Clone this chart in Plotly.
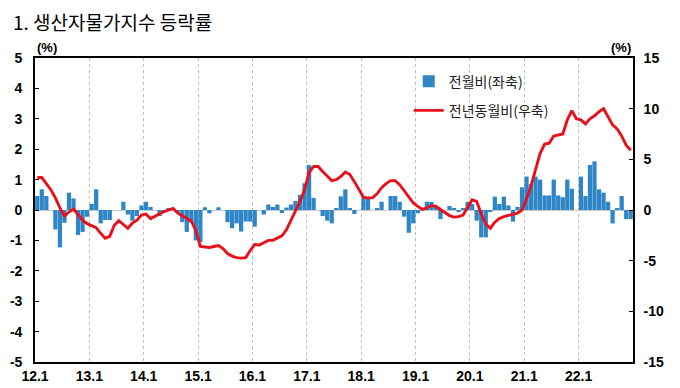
import plotly.graph_objects as go

years = list(range(2012, 2023))
months = [f"{y % 100}.{m}" for y in years for m in range(1, 13)]
x_tick_labels = [f"{y % 100}.1" for y in years]
left_ticks = [-5, -4, -3, -2, -1, 0, 1, 2, 3, 4, 5]
right_ticks = [-15, -10, -5, 0, 5, 10, 15]

# 전월비 (left axis, %)
mom = [
    0.46, 0.68, 0.46, 0.0, -0.64, -1.23, -0.42, 0.57, 0.38, -0.82, -0.72, -0.22,
    0.2, 0.68, -0.44, -0.33, -0.33, 0.0, 0.0, 0.27, -0.15, -0.35, -0.2, 0.15,
    0.27, 0.1, 0.0, -0.2, -0.05, 0.05, 0.0, -0.05, -0.4, -0.72, -0.42, -1.0,
    -1.05, 0.09, -0.11, 0.0, 0.09, 0.0, -0.4, -0.6, -0.44, -0.71, -0.38, -0.38,
    -0.55, 0.0, -0.15, 0.18, 0.1, 0.18, -0.1, 0.08, 0.18, 0.3, 0.5, 0.88,
    1.48, 0.4, 0.0, -0.2, -0.35, -0.44, 0.05, 0.45, 0.68, 0.05, -0.13, 0.0,
    0.38, 0.38, 0.0, 0.05, 0.27, 0.0, 0.46, 0.46, 0.27, -0.22, -0.75, -0.44,
    -0.11, 0.0, 0.27, 0.27, 0.1, -0.3, 0.0, 0.13, 0.05, -0.05, 0.05, 0.27,
    0.2, -0.35, -0.9, -0.9, -0.05, 0.44, 0.2, 0.44, 0.15, -0.38, 0.1, 0.75,
    1.1, 0.85, 1.1, 1.0, 0.48, 0.48, 1.0, 0.48, 0.42, 1.0, 0.7, 0.0,
    1.1, 0.46, 1.48, 1.6, 0.68, 0.57, 0.27, -0.44, 0.05, 0.46, -0.3, -0.3,
]

# 전년동월비 (right axis, %)
yoy = [
    3.2, 3.2, 2.6, 2.0, 1.2, 0.2, -0.6, -0.2, 0.1, -0.5, -1.0, -1.35,
    -1.55, -1.75, -2.3, -2.8, -2.6, -1.5, -1.05, -1.4, -1.8, -1.3, -1.0, -0.5,
    -0.4, -0.85, -0.6, -0.4, -0.15, 0.0, 0.15, -0.3, -0.6, -0.85, -1.1, -2.0,
    -3.6, -3.65, -3.7, -3.6, -3.5, -3.8, -4.3, -4.55, -4.7, -4.75, -4.7, -4.0,
    -3.4, -3.45, -3.2, -3.0, -3.0, -2.8, -2.55, -1.95, -1.0, 0.0, 0.85, 2.0,
    3.7, 4.3, 4.3, 3.8, 3.4, 2.9, 3.0, 3.3, 3.75, 3.5, 2.8, 2.0,
    1.25, 1.2, 1.2, 1.6, 2.2, 2.6, 2.9, 2.9, 2.5, 1.9, 1.3, 0.7,
    0.35, 0.05, 0.2, 0.45, 0.35, 0.05, -0.25, -0.55, -0.7, -0.65, -0.5, 0.3,
    1.0, 0.85, -0.4, -1.4, -1.8, -1.2, -0.85, -0.65, -0.55, -0.45, -0.3, 0.0,
    1.1, 2.4, 3.9, 5.6, 6.5, 6.6, 7.3, 7.4, 7.5, 8.9, 9.8, 9.0,
    8.9, 8.5, 9.0, 9.3, 9.7, 10.0, 9.2, 8.4, 8.0, 7.3, 6.4, 5.9,
]

idx = list(range(len(months)))
tick_pos = [months.index(lbl) - 0.5 for lbl in x_tick_labels]

BLUE = "#2F86C6"
RED = "#E8101A"
FONT = "Liberation Sans, Arial, sans-serif"
KFONT = "Noto Sans CJK KR, sans-serif"

# The page body has an 8px margin, so the figure is sized 8px smaller.
W, H = 672, 380
ML, MR, MT, MB = 27, 47, 50, 26
PW, PH = W - ML - MR, H - MT - MB

fig = go.Figure()
fig.add_trace(go.Bar(
    x=idx, y=mom, name="전월비(좌축)", marker_color=BLUE, marker_line_width=0,
    customdata=months, legendgroup="a",
))
fig.add_trace(go.Scatter(
    x=idx, y=yoy, name="전년동월비(우축)", mode="lines", yaxis="y2",
    line=dict(color=RED, width=2.9), customdata=months, legendgroup="b",
))

tickfont = dict(family=FONT, size=14, color="black", weight="bold")

fig.update_layout(
    width=W, height=H,
    margin=dict(l=ML, r=MR, t=MT, b=MB, pad=0),
    paper_bgcolor="white", plot_bgcolor="white",
    bargap=0.06,
    showlegend=True,
    legend=dict(
        x=0.625, y=0.975, xanchor="left", yanchor="top",
        font=dict(family=KFONT, size=14, color="#222"),
        bgcolor="rgba(0,0,0,0)", tracegroupgap=8, itemwidth=30,
    ),
    xaxis=dict(
        range=[-0.5, len(months) - 0.5], automargin=False,
        tickmode="array", tickvals=tick_pos, ticktext=x_tick_labels,
        ticks="", showgrid=True, gridcolor="#BDBDBD", griddash="dot", gridwidth=1,
        showline=True, linecolor="black", linewidth=1.6, mirror=True,
        zeroline=False, tickfont=tickfont,
    ),
    yaxis=dict(
        range=[-5, 5], automargin=False,
        tickmode="array", tickvals=left_ticks, ticktext=[str(v) for v in left_ticks],
        ticks="inside", ticklen=4, tickcolor="black",
        showgrid=False, zeroline=True, zerolinecolor="#C8C8C8", zerolinewidth=1,
        showline=True, linecolor="black", linewidth=1.6,
        ticklabelstandoff=8, tickfont=tickfont,
    ),
    yaxis2=dict(
        range=[-15, 15], overlaying="y", side="right", automargin=False,
        tickmode="array", tickvals=right_ticks, ticktext=[str(v) for v in right_ticks],
        ticks="inside", ticklen=4, tickcolor="black",
        showgrid=False, zeroline=False,
        showline=True, linecolor="black", linewidth=1.6,
        ticklabelstandoff=6, tickfont=tickfont,
    ),
    annotations=[
        dict(text="1. 생산자물가지수 등락률", xref="paper", yref="paper",
             x=(3 - ML) / PW, y=1 + 37 / PH, xanchor="left", yanchor="middle",
             showarrow=False, font=dict(family=KFONT, size=19, color="black")),
        dict(text="(%)", xref="paper", yref="paper", x=0.0, y=1 + 11 / PH,
             xanchor="left", yanchor="middle", showarrow=False,
             font=dict(family=FONT, size=13, color="black", weight="bold")),
        dict(text="(%)", xref="paper", yref="paper", x=1.0, y=1 + 11 / PH,
             xanchor="right", yanchor="middle", showarrow=False,
             font=dict(family=FONT, size=13, color="black", weight="bold")),
    ],
)

fig.write_html("out.html")
